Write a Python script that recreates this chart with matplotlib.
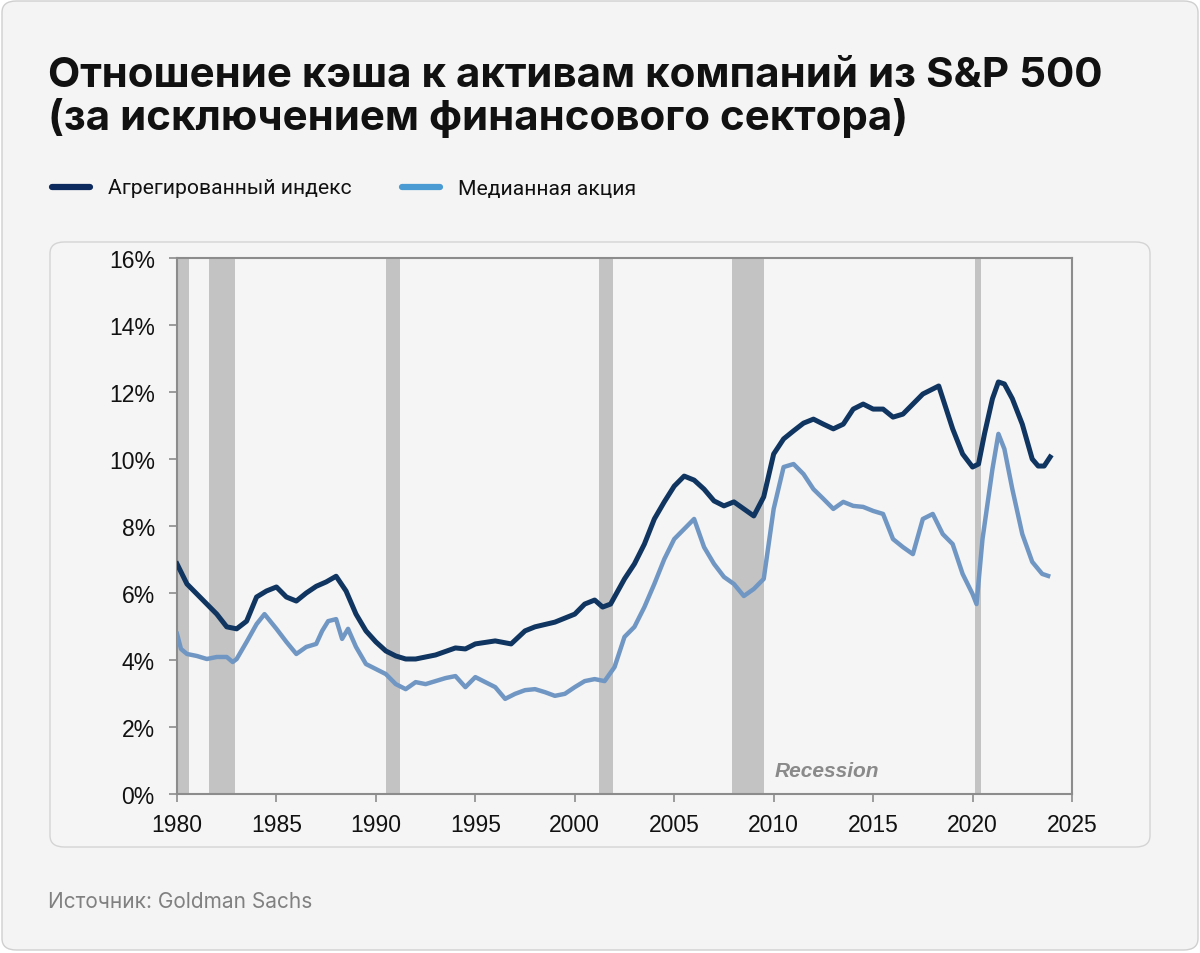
import matplotlib
matplotlib.use("Agg")
import matplotlib.pyplot as plt
from matplotlib.patches import FancyBboxPatch
import numpy as np

# aggregate index (dark line)
agg_years = [1980.0, 1980.5, 1981.0, 1982.0, 1982.5, 1983.0, 1983.5, 1984.0, 1984.5, 1985.0,
             1985.5, 1986.0, 1986.5, 1987.0, 1987.5, 1988.0, 1988.5, 1989.0, 1989.5, 1990.0,
             1990.5, 1991.0, 1991.5, 1992.0, 1993.0, 1994.0, 1994.5, 1995.0, 1996.0, 1996.8,
             1997.5, 1998.0, 1999.0, 2000.0, 2000.5, 2001.0, 2001.4, 2001.8, 2002.5, 2003.0,
             2003.5, 2004.0, 2004.5, 2005.0, 2005.5, 2006.0, 2006.5, 2007.0, 2007.5, 2008.0,
             2008.5, 2009.0, 2009.5, 2010.0, 2010.5, 2011.0, 2011.5, 2012.0, 2012.5, 2013.0,
             2013.5, 2014.0, 2014.5, 2015.0, 2015.5, 2016.0, 2016.5, 2017.0, 2017.5, 2018.0,
             2018.3, 2019.0, 2019.5, 2020.0, 2020.3, 2020.6, 2021.0, 2021.3, 2021.6, 2022.0,
             2022.5, 2023.0, 2023.3, 2023.6, 2023.9]
agg_vals = [6.87, 6.27, 5.97, 5.37, 4.99, 4.93, 5.16, 5.88, 6.06, 6.18,
            5.88, 5.76, 6.00, 6.20, 6.33, 6.50, 6.06, 5.37, 4.87, 4.54,
            4.27, 4.12, 4.03, 4.03, 4.15, 4.36, 4.33, 4.48, 4.57, 4.48,
            4.87, 4.99, 5.13, 5.37, 5.67, 5.79, 5.58, 5.67, 6.42, 6.87,
            7.46, 8.21, 8.72, 9.19, 9.49, 9.37, 9.10, 8.75, 8.60, 8.72,
            8.51, 8.30, 8.87, 10.15, 10.60, 10.84, 11.07, 11.19, 11.04, 10.90,
            11.04, 11.49, 11.64, 11.49, 11.49, 11.25, 11.34, 11.64, 11.94, 12.09,
            12.18, 10.90, 10.15, 9.76, 9.85, 10.75, 11.80, 12.30, 12.24, 11.80,
            11.04, 10.00, 9.79, 9.79, 10.06]

# median stock (light line)
med_years = [1980.0, 1980.2, 1980.5, 1981.0, 1981.5, 1982.0, 1982.5, 1982.8, 1983.0, 1983.5,
             1984.0, 1984.4, 1985.0, 1985.5, 1986.0, 1986.5, 1987.0, 1987.3, 1987.6, 1988.0,
             1988.3, 1988.6, 1989.0, 1989.5, 1990.0, 1990.5, 1991.0, 1991.5, 1992.0, 1992.5,
             1993.0, 1993.5, 1994.0, 1994.5, 1995.0, 1995.5, 1996.0, 1996.5, 1997.0, 1997.5,
             1998.0, 1998.5, 1999.0, 1999.5, 2000.0, 2000.5, 2001.0, 2001.5, 2002.0, 2002.5,
             2003.0, 2003.5, 2004.0, 2004.5, 2005.0, 2005.5, 2006.0, 2006.5, 2007.0, 2007.5,
             2008.0, 2008.5, 2009.0, 2009.5, 2010.0, 2010.5, 2011.0, 2011.5, 2012.0, 2012.5,
             2013.0, 2013.5, 2014.0, 2014.5, 2015.0, 2015.5, 2016.0, 2016.5, 2017.0, 2017.5,
             2018.0, 2018.5, 2019.0, 2019.5, 2020.0, 2020.2, 2020.5, 2021.0, 2021.3, 2021.6,
             2022.0, 2022.5, 2023.0, 2023.5, 2023.8]
med_vals = [4.78, 4.33, 4.18, 4.12, 4.03, 4.09, 4.09, 3.94, 4.03, 4.54,
            5.07, 5.37, 4.93, 4.54, 4.18, 4.39, 4.48, 4.87, 5.16, 5.22,
            4.63, 4.93, 4.39, 3.88, 3.73, 3.58, 3.28, 3.13, 3.34, 3.28,
            3.37, 3.46, 3.52, 3.19, 3.49, 3.34, 3.19, 2.84, 2.99, 3.10,
            3.13, 3.04, 2.93, 2.99, 3.19, 3.37, 3.43, 3.37, 3.79, 4.69,
            4.99, 5.58, 6.27, 7.01, 7.61, 7.91, 8.21, 7.37, 6.87, 6.48,
            6.27, 5.91, 6.12, 6.42, 8.51, 9.76, 9.85, 9.55, 9.10, 8.81,
            8.51, 8.72, 8.60, 8.57, 8.45, 8.36, 7.61, 7.37, 7.16, 8.21,
            8.36, 7.76, 7.46, 6.57, 5.97, 5.67, 7.61, 9.70, 10.75, 10.30,
            9.10, 7.76, 6.93, 6.57, 6.51]

recessions = [(1980.0, 1980.6), (1981.6, 1982.9), (1990.5, 1991.2),
              (2001.2, 2001.9), (2007.9, 2009.5), (2020.1, 2020.4)]

fig = plt.figure(figsize=(12, 9.54), dpi=100)
fig.patch.set_facecolor("white")

W, H = 1200, 954
def fx(px):
    return px / W
def fy(py):
    return 1 - py / H

# outer card
card = FancyBboxPatch((fx(2), fy(951)), fx(1196), 949 / H,
                      boxstyle="round,pad=0,rounding_size=0.012",
                      transform=fig.transFigure, facecolor="#f4f4f4",
                      edgecolor="#cfcfcf", linewidth=1, zorder=-2)
fig.patches.append(card)
# inner chart panel
panel = FancyBboxPatch((fx(50), fy(848)), fx(1100), 605 / H,
                       boxstyle="round,pad=0,rounding_size=0.012",
                       transform=fig.transFigure, facecolor="#f5f5f5",
                       edgecolor="#d4d4d4", linewidth=1, zorder=-1)
fig.patches.append(panel)

title_font = ["Inter", "DejaVu Sans"]
fig.text(fx(48), fy(76), "Отношение кэша к активам компаний из S&P 500",
         fontsize=30.3, fontweight="bold", family=title_font, va="center", color="#111111")
fig.text(fx(48), fy(118), "(за исключением финансового сектора)",
         fontsize=30.3, fontweight="bold", family=title_font, va="center", color="#111111")

# legend
fig.lines.append(plt.Line2D([fx(52), fx(90)], [fy(188), fy(188)], transform=fig.transFigure,
                            color="#0d2a5e", linewidth=4.5, solid_capstyle="round"))
fig.text(fx(108), fy(189), "Агрегированный индекс", fontsize=15.2, family="Roboto",
         va="center", color="#111111")
fig.lines.append(plt.Line2D([fx(402), fx(440)], [fy(188), fy(188)], transform=fig.transFigure,
                            color="#4a9ad4", linewidth=4.5, solid_capstyle="round"))
fig.text(fx(458), fy(189), "Медианная акция", fontsize=15.2, family="Roboto",
         va="center", color="#111111")

fig.text(fx(48), fy(902), "Источник: Goldman Sachs", fontsize=15, family="Inter",
         va="center", color="#808080")

ax = fig.add_axes([fx(177), fy(795), (1072 - 177) / W, (795 - 259) / H])
ax.set_facecolor("#f5f5f5")
for a, b in recessions:
    ax.axvspan(a, b, color="#c3c3c3", linewidth=0, zorder=1)

ax.plot(med_years, med_vals, color="#7097c3", linewidth=3.2, zorder=3)
ax.plot(agg_years, agg_vals, color="#0f3560", linewidth=3.6, zorder=4)

ax.set_xlim(1980, 2025)
ax.set_ylim(0, 16)
ax.set_xticks(np.arange(1980, 2026, 5))
ax.set_yticks(np.arange(0, 17, 2))
ax.set_yticklabels([f"{v}%" for v in range(0, 17, 2)])
for s in ax.spines.values():
    s.set_color("#8c8c8c")
    s.set_linewidth(1.5)
ax.tick_params(axis="both", colors="#8c8c8c", length=6, width=1.2,
               labelcolor="#111111", labelsize=16.5)
ax.tick_params(axis="y", pad=10)
ax.tick_params(axis="x", pad=8)
for lab in ax.get_xticklabels() + ax.get_yticklabels():
    lab.set_family("Liberation Sans")

ax.text(2010.05, 0.69, "Recession", fontsize=15, fontstyle="italic", fontweight="bold",
        color="#8a8a8a", family="Liberation Sans", va="center", zorder=5)

fig.savefig("out.png", dpi=100, facecolor=fig.get_facecolor())
